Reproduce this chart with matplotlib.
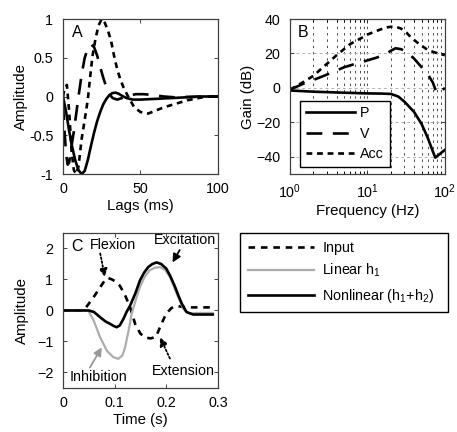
import numpy as np
import matplotlib
matplotlib.use('Agg')
import matplotlib.pyplot as plt

plt.rcParams['font.family'] = ['Liberation Sans', 'DejaVu Sans']
plt.rcParams['mathtext.fontset'] = 'custom'
plt.rcParams['mathtext.rm'] = 'Liberation Sans'
plt.rcParams['mathtext.it'] = 'Liberation Sans:italic'
plt.rcParams['font.size'] = 10.3

# Panel A: impulse responses (lag in ms)
lag_p = [0, 2, 4, 6, 8, 10, 12, 14, 16, 18, 20, 22, 24, 26, 28, 30, 32, 34, 36, 38,
         41, 45, 50, 55, 60, 70, 80, 90, 100]
amp_p = [0, -0.2, -0.45, -0.66, -0.83, -0.95, -1.0, -0.96, -0.82, -0.64, -0.47, -0.32,
         -0.2, -0.1, -0.03, 0.02, 0.045, 0.05, 0.035, 0.01, -0.02, -0.04, -0.04, -0.035,
         -0.03, -0.02, -0.01, 0, 0]
lag_v = [0, 1, 2, 3, 4, 5, 7, 9, 10, 12, 14, 16, 18, 20, 22, 24, 26, 28, 30, 32, 35,
         38, 42, 47, 52, 58, 65, 72, 80, 90, 100]
amp_v = [-0.1, -0.45, -0.75, -0.88, -0.85, -0.7, -0.45, -0.15, 0, 0.28, 0.5, 0.62,
         0.67, 0.64, 0.53, 0.38, 0.24, 0.12, 0.03, -0.02, -0.04, -0.02, 0.01, 0.03,
         0.03, 0.02, 0, -0.01, -0.005, 0, 0]
lag_a = [0, 1, 2.5, 4, 5.5, 7, 8.5, 10, 12, 14, 16, 17.5, 19, 21, 23, 25, 27, 29, 31,
         33, 35, 37, 39, 42, 46, 50, 55, 60, 65, 70, 75, 80, 85, 90, 95, 100]
amp_a = [0, 0.1, 0.15, -0.2, -0.7, -0.95, -1.0, -0.9, -0.55, -0.3, -0.04, 0.25, 0.52,
         0.75, 0.92, 1.0, 0.95, 0.85, 0.72, 0.52, 0.35, 0.22, 0.12, 0, -0.14, -0.2,
         -0.22, -0.18, -0.14, -0.11, -0.08, -0.05, -0.03, -0.01, 0, 0]

# Panel B: gain curves
freq_p = [1, 2, 5, 10, 15, 20, 25, 30, 40, 50, 60, 70, 75, 85, 100]
gain_p = [-1.5, -2.2, -2.8, -3.2, -3.3, -3.5, -5, -8, -14, -21, -29, -37, -40.5, -38.5, -36]
freq_v = [1, 1.5, 2, 2.6, 3.5, 5, 7, 10, 13, 17, 20, 23, 27, 32, 40, 50, 60, 70, 78, 85, 100]
gain_v = [-1, 2.5, 4.6, 6.6, 9, 12, 14, 16, 17.5, 19.5, 21.5, 23, 22.5, 21, 17, 12, 8, 3,
          -3, -3, 0]
freq_a = [1, 1.5, 2, 3, 4, 6, 8, 10, 13, 17, 20, 23, 27, 32, 37, 45, 60, 75, 100]
gain_a = [-1, 3.5, 7, 14, 19, 25.5, 28.5, 31, 33, 35, 35.5, 35.5, 34.5, 32, 29, 26, 22,
          20.5, 19]

# Panel C: responses to a flexion/extension input
t_in = [0, 0.02, 0.04, 0.05, 0.06, 0.07, 0.08, 0.087, 0.095, 0.1, 0.11, 0.12, 0.13,
        0.14, 0.15, 0.16, 0.17, 0.18, 0.19, 0.2, 0.21, 0.22, 0.23, 0.24, 0.29]
y_in = [0, 0, 0, 0.22, 0.45, 0.7, 0.95, 1.05, 1.0, 0.95, 0.8, 0.5, 0.1, -0.45, -0.75,
        -0.88, -0.9, -0.85, -0.45, -0.1, 0.08, 0.15, 0.12, 0.1, 0.1]
t_lin = [0, 0.049, 0.06, 0.072, 0.085, 0.097, 0.107, 0.115, 0.12, 0.127, 0.133, 0.141,
         0.149, 0.158, 0.168, 0.178, 0.188, 0.198, 0.207, 0.214, 0.22, 0.227, 0.233,
         0.24, 0.246, 0.26, 0.29]
y_lin = [0, 0, -0.35, -0.87, -1.3, -1.5, -1.56, -1.45, -1.2, -0.65, -0.1, 0.35, 0.76,
         1.08, 1.3, 1.38, 1.4, 1.3, 1.08, 0.8, 0.54, 0.28, 0.05, -0.05, -0.1, -0.08, -0.08]
t_nl = [0, 0.05, 0.06, 0.072, 0.082, 0.091, 0.098, 0.104, 0.11, 0.117, 0.123, 0.13,
        0.14, 0.149, 0.157, 0.165, 0.173, 0.181, 0.19, 0.2, 0.208, 0.217, 0.223, 0.23,
        0.239, 0.252, 0.29]
y_nl = [0, 0, -0.05, -0.22, -0.35, -0.43, -0.5, -0.54, -0.48, -0.27, -0.05, 0.16, 0.55,
        0.97, 1.22, 1.4, 1.5, 1.55, 1.5, 1.35, 1.1, 0.76, 0.5, 0.22, -0.05, -0.13, -0.13]

fig = plt.figure(figsize=(4.57, 4.32), dpi=100)
axA = fig.add_axes([0.1379, 0.5972, 0.339, 0.3588])
axB = fig.add_axes([0.6346, 0.5972, 0.339, 0.3588])
axC = fig.add_axes([0.1379, 0.1019, 0.339, 0.3588])

for ax in (axA, axB, axC):
    ax.tick_params(direction='in', top=True, right=True, length=3, width=0.6,
                   colors='0.15', labelcolor='black')
    ax.tick_params(axis='x', pad=6)
    ax.tick_params(axis='y', pad=7)
    ax.tick_params(which='minor', direction='in', top=True, right=True, length=2)
    for s in ax.spines.values():
        s.set_color('0.25')
        s.set_linewidth(0.9)

# A
axA.plot(lag_p, amp_p, color='black', lw=1.9)
axA.plot(lag_v, amp_v, color='black', lw=1.9, dashes=(6, 4))
axA.plot(lag_a, amp_a, color='black', lw=1.9, dashes=(2.2, 1.8))
axA.set_xlim(0, 100)
axA.set_ylim(-1, 1)
axA.set_xticks([0, 50, 100])
axA.set_yticks([-1, -0.5, 0, 0.5, 1])
axA.set_yticklabels(['-1', '-0.5', '0', '0.5', '1'])
axA.set_xlabel('Lags (ms)', labelpad=2, fontsize=10.8)
axA.set_ylabel('Amplitude', labelpad=1, fontsize=10.8)
axA.text(0.09, 0.91, 'A', transform=axA.transAxes, fontsize=11.5, ha='center', va='center')

# B
axB.set_xscale('log')
axB.grid(True, which='both', axis='x', color='0.3', ls=(0, (2.5, 4)), lw=0.7)
axB.grid(True, which='major', axis='y', color='0.7', ls=(0, (3, 3)), lw=0.7)
axB.plot(freq_p, gain_p, color='black', lw=1.9, label='P')
axB.plot(freq_v, gain_v, color='black', lw=1.9, dashes=(6, 4), label='V')
axB.plot(freq_a, gain_a, color='black', lw=1.9, dashes=(2.2, 1.8), label='Acc')
axB.set_xlim(1, 100)
axB.set_ylim(-50, 40)
axB.set_yticks([-40, -20, 0, 20, 40])
axB.set_xlabel('Frequency (Hz)', labelpad=2, fontsize=10.8)
axB.set_ylabel('Gain (dB)', labelpad=1, fontsize=10.8)
axB.text(0.085, 0.91, 'B', transform=axB.transAxes, fontsize=11.5, ha='center', va='center')
legB = axB.legend(loc='lower left', bbox_to_anchor=(0.02, 0.0), handlelength=3.4,
                  handletextpad=0.4, labelspacing=0.45, borderpad=0.4,
                  fancybox=False, framealpha=1, edgecolor='black')
legB.get_frame().set_linewidth(1.0)

# C
hin, = axC.plot(t_in, y_in, color='black', lw=1.9, dashes=(2.5, 2.2))
hlin, = axC.plot(t_lin, y_lin, color='0.68', lw=1.6)
hnl, = axC.plot(t_nl, y_nl, color='black', lw=1.9)
axC.set_xlim(0, 0.3)
axC.set_ylim(-2.5, 2.5)
axC.set_xticks([0, 0.1, 0.2, 0.3])
axC.set_xticklabels(['0', '0.1', '0.2', '0.3'])
axC.set_yticks([-2, -1, 0, 1, 2])
axC.set_xlabel('Time (s)', labelpad=2, fontsize=10.8)
axC.set_ylabel('Amplitude', labelpad=6, fontsize=10.8)
axC.text(0.09, 0.91, 'C', transform=axC.transAxes, fontsize=11.5, ha='center', va='center')

axC.text(0.097, 2.11, 'Flexion', ha='center', va='center')
axC.text(0.236, 2.27, 'Excitation', ha='center', va='center')
axC.text(0.068, -2.16, 'Inhibition', ha='center', va='center')
axC.text(0.233, -1.95, 'Extension', ha='center', va='center')

arrow_kw = dict(arrowstyle='-|>', lw=1.3, shrinkA=0, shrinkB=0, mutation_scale=12)
axC.annotate('', xy=(0.081, 1.08), xytext=(0.072, 1.84),
             arrowprops=dict(color='black', ls=(0, (1, 1.2)), **arrow_kw))
axC.annotate('', xy=(0.212, 1.55), xytext=(0.226, 1.95),
             arrowprops=dict(color='black', **arrow_kw))
axC.annotate('', xy=(0.075, -1.19), xytext=(0.052, -1.84),
             arrowprops=dict(color='0.6', **arrow_kw))
axC.annotate('', xy=(0.188, -0.87), xytext=(0.207, -1.55),
             arrowprops=dict(color='black', ls=(0, (1, 1.2)), **arrow_kw))

legC = fig.legend([hin, hlin, hnl],
                  ['Input', 'Linear h$_1$', 'Nonlinear (h$_1$+h$_2$)'],
                  loc='upper left', bbox_to_anchor=(0.525, 0.2662, 0.455, 0.1944),
                  mode='expand', borderaxespad=0, handlelength=4.6, handletextpad=0.6,
                  labelspacing=0.5, borderpad=0.55, fancybox=False, framealpha=1,
                  edgecolor='black')
legC.get_frame().set_linewidth(1.0)

fig.savefig('out.png', dpi=100)
